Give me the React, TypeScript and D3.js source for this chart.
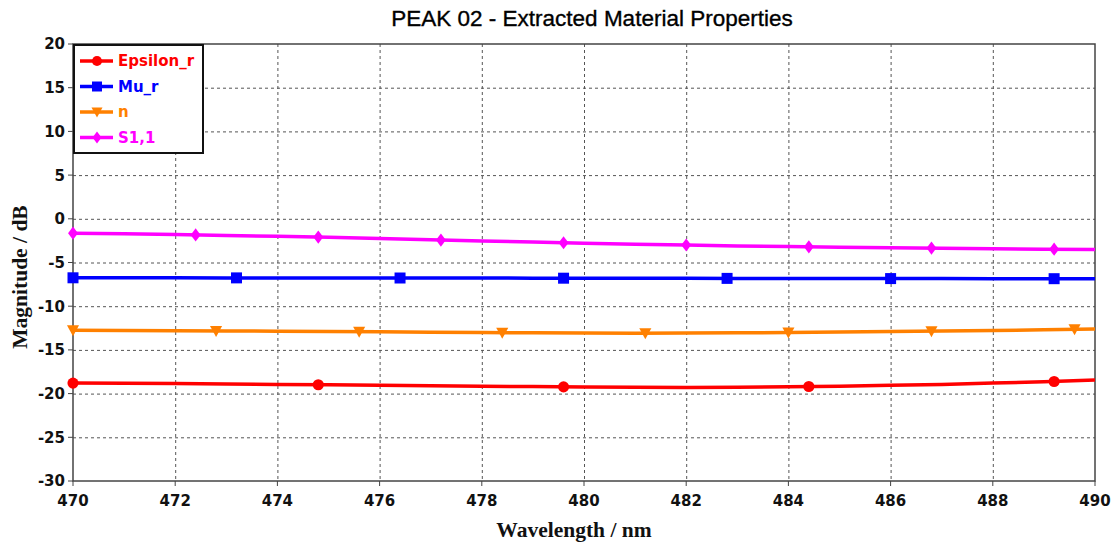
import { useEffect, useRef } from "react";
import * as d3 from "d3";

const wavelength = [470, 471, 472, 473, 474, 475, 476, 477, 478, 479, 480, 481, 482, 483, 484, 485, 486, 487, 488, 489, 490];
const epsilonR = [-18.8, -18.82, -18.85, -18.9, -18.95, -19.0, -19.05, -19.1, -19.15, -19.2, -19.25, -19.28, -19.3, -19.28, -19.22, -19.15, -19.05, -18.95, -18.8, -18.65, -18.45];
const muR = [-6.75, -6.75, -6.75, -6.76, -6.76, -6.77, -6.77, -6.78, -6.78, -6.79, -6.8, -6.8, -6.81, -6.82, -6.82, -6.83, -6.84, -6.84, -6.85, -6.85, -6.86];
const nIndex = [-12.75, -12.77, -12.8, -12.83, -12.86, -12.9, -12.93, -12.97, -13.0, -13.05, -13.08, -13.1, -13.08, -13.05, -13.0, -12.95, -12.9, -12.85, -12.78, -12.7, -12.6];
const s11 = [-1.65, -1.7, -1.8, -1.9, -2.0, -2.12, -2.25, -2.4, -2.55, -2.65, -2.8, -2.9, -3.0, -3.1, -3.18, -3.25, -3.3, -3.36, -3.42, -3.47, -3.52];

const series = [
  { name: "Epsilon_r", values: epsilonR, color: "#ff0000", marker: "circle", markAt: [470, 474.8, 479.6, 484.4, 489.2] },
  { name: "Mu_r", values: muR, color: "#0000ff", marker: "square", markAt: [470, 473.2, 476.4, 479.6, 482.8, 486, 489.2] },
  { name: "n", values: nIndex, color: "#ff8000", marker: "triangle", markAt: [470, 472.8, 475.6, 478.4, 481.2, 484, 486.8, 489.6] },
  { name: "S1,1", values: s11, color: "#ff00ff", marker: "diamond", markAt: [470, 472.4, 474.8, 477.2, 479.6, 482, 484.4, 486.8, 489.2] },
];

const xTicks = [470, 472, 474, 476, 478, 480, 482, 484, 486, 488, 490];
const yTicks = [20, 15, 10, 5, 0, -5, -10, -15, -20, -25, -30];

const width = 1118;
const height = 543;
const margin = { left: 73, right: 23, top: 44, bottom: 62 };

function markerPath(kind: string, s: number) {
  if (kind === "circle") return d3.symbol(d3.symbolCircle, s * s * 0.8)();
  if (kind === "square") return d3.symbol(d3.symbolSquare, s * s)();
  if (kind === "diamond") return `M0,${-s * 0.6}L${s * 0.45},0L0,${s * 0.6}L${-s * 0.45},0Z`;
  return `M${-s * 0.55},${-s * 0.45}L${s * 0.55},${-s * 0.45}L0,${s * 0.55}Z`;
}

export default function App() {
  const svgRef = useRef<SVGSVGElement>(null);

  useEffect(() => {
    const svg = d3.select(svgRef.current);
    svg.selectAll("*").remove();

    const x = d3.scaleLinear().domain([470, 490]).range([margin.left, width - margin.right]);
    const y = d3.scaleLinear().domain([-30, 20]).range([height - margin.bottom, margin.top]);
    const x0 = margin.left, x1 = width - margin.right;
    const y0 = margin.top, y1 = height - margin.bottom;

    // grid
    const grid = svg.append("g").attr("stroke", "#555").attr("stroke-width", 1).attr("stroke-dasharray", "3,3");
    xTicks.slice(1, -1).forEach(t => {
      grid.append("line").attr("x1", x(t) + 0.5).attr("x2", x(t) + 0.5).attr("y1", y0).attr("y2", y1);
    });
    yTicks.slice(1, -1).forEach(t => {
      grid.append("line").attr("x1", x0).attr("x2", x1).attr("y1", y(t) + 0.5).attr("y2", y(t) + 0.5);
    });

    // frame
    svg.append("rect").attr("x", x0).attr("y", y0).attr("width", x1 - x0).attr("height", y1 - y0)
      .attr("fill", "none").attr("stroke", "#444").attr("stroke-width", 1.5);

    // ticks
    const tickFont = "'DejaVu Sans', Verdana, sans-serif";
    yTicks.forEach(t => {
      svg.append("line").attr("x1", x0 - 5).attr("x2", x0).attr("y1", y(t)).attr("y2", y(t)).attr("stroke", "#444");
      svg.append("text").attr("x", x0 - 8).attr("y", y(t)).attr("dy", "0.36em").attr("text-anchor", "end")
        .attr("font-family", tickFont).attr("font-weight", "bold").attr("font-size", 15).attr("fill", "#111")
        .text(t);
    });
    xTicks.forEach(t => {
      svg.append("line").attr("x1", x(t)).attr("x2", x(t)).attr("y1", y1).attr("y2", y1 + 5).attr("stroke", "#444");
      svg.append("text").attr("x", x(t)).attr("y", y1 + 25).attr("text-anchor", "middle")
        .attr("font-family", tickFont).attr("font-weight", "bold").attr("font-size", 15).attr("fill", "#111")
        .text(t);
    });

    // series
    series.forEach(s => {
      const pts: [number, number][] = wavelength.map((w, i) => [w, s.values[i]]);
      const line = d3.line<[number, number]>().x(d => x(d[0])).y(d => y(d[1]));
      svg.append("path").attr("d", line(pts)).attr("fill", "none").attr("stroke", s.color).attr("stroke-width", 3.5);
      const interp = (w: number) => {
        const i = Math.min(Math.floor(w - 470), wavelength.length - 2);
        const f = w - wavelength[i];
        return s.values[i] + (s.values[i + 1] - s.values[i]) * f;
      };
      s.markAt.forEach(w => {
        svg.append("path").attr("d", markerPath(s.marker, 11))
          .attr("transform", `translate(${x(w)},${y(interp(w))})`).attr("fill", s.color);
      });
    });

    // legend
    const lg = svg.append("g");
    lg.append("rect").attr("x", x0 + 1).attr("y", y0 + 1).attr("width", 129).attr("height", 108)
      .attr("fill", "#fff").attr("stroke", "#111").attr("stroke-width", 2);
    series.forEach((s, i) => {
      const ly = y0 + 17 + i * 25.5;
      lg.append("line").attr("x1", x0 + 7).attr("x2", x0 + 40).attr("y1", ly).attr("y2", ly)
        .attr("stroke", s.color).attr("stroke-width", 3.5);
      lg.append("path").attr("d", markerPath(s.marker, 10)).attr("transform", `translate(${x0 + 24},${ly})`).attr("fill", s.color);
      lg.append("text").attr("x", x0 + 45).attr("y", ly).attr("dy", "0.36em")
        .attr("font-family", tickFont).attr("font-weight", "bold").attr("font-size", 15).attr("fill", s.color)
        .text(s.name);
    });

    // titles
    svg.append("text").attr("x", 592).attr("y", 26).attr("text-anchor", "middle")
      .attr("font-family", "'Liberation Sans', Arial, sans-serif").attr("font-size", 22.5).attr("fill", "#000")
      .attr("stroke", "#000").attr("stroke-width", 0.35)
      .text("PEAK 02 - Extracted Material Properties");
    svg.append("text").attr("x", 574).attr("y", 537).attr("text-anchor", "middle")
      .attr("font-family", "'Liberation Serif', 'Times New Roman', serif").attr("font-weight", "bold").attr("font-size", 21.5).attr("fill", "#111")
      .text("Wavelength / nm");
    svg.append("text").attr("transform", `translate(27,277) rotate(-90)`).attr("text-anchor", "middle")
      .attr("font-family", "'Liberation Serif', 'Times New Roman', serif").attr("font-weight", "bold").attr("font-size", 21.5).attr("fill", "#111")
      .text("Magnitude / dB");
  }, []);

  return (
    <svg ref={svgRef} width={width} height={height} style={{ position: "absolute", left: 0, top: 0, background: "#fff" }} />
  );
}
